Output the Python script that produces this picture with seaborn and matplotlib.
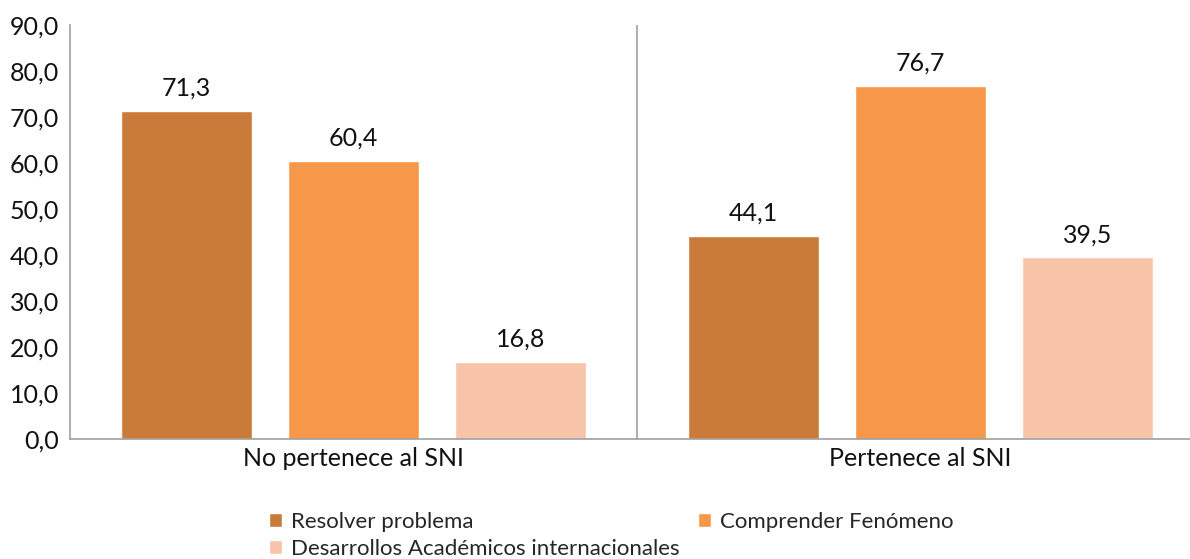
import matplotlib
import pandas as pd
import seaborn as sns
import matplotlib.pyplot as plt
from matplotlib.patches import Patch
from matplotlib.ticker import FuncFormatter

# datos
grupos = ['No pertenece al SNI', 'Pertenece al SNI']
series = ['Resolver problema', 'Comprender Fenómeno', 'Desarrollos Académicos internacionales']
resolver = [71.3, 44.1]
comprender = [60.4, 76.7]
desarrollos = [16.8, 39.5]
colores = ['#CA7B3A', '#F6974A', '#F8C4A9']

df = pd.DataFrame({
    'grupo': grupos * 3,
    'serie': [series[0]] * 2 + [series[1]] * 2 + [series[2]] * 2,
    'valor': resolver + comprender + desarrollos,
})

sns.set_theme(style='white')
matplotlib.rcParams['font.family'] = ['Lato', 'DejaVu Sans']
matplotlib.rcParams['font.size'] = 18

fig = plt.figure(figsize=(11.9, 5.59), dpi=100)
ax = fig.add_axes([70 / 1190, 1 - 439 / 559, 1134 / 1190, 414 / 559])

sns.barplot(data=df, x='grupo', y='valor', hue='serie', palette=colores,
            width=0.8835, gap=0.216, ax=ax, legend=False, saturation=1)

for c in ax.containers:
    ax.bar_label(c, labels=[f'{v:.1f}'.replace('.', ',') for v in c.datavalues],
                 padding=8, fontsize=18, color='#111111')

ax.set_xlim(-0.5, 1.5)
ax.set_ylim(0, 90)
ax.set_yticks(range(0, 91, 10))
ax.yaxis.set_major_formatter(FuncFormatter(lambda v, p: f'{v:.1f}'.replace('.', ',')))
ax.set_xlabel('')
ax.set_ylabel('')
ax.tick_params(axis='both', length=0, labelsize=18, colors='#111111')
ax.tick_params(axis='x', pad=6)
ax.tick_params(axis='y', pad=8)
for s in ['top', 'right']:
    ax.spines[s].set_visible(False)
for s in ['left', 'bottom']:
    ax.spines[s].set_color('#A0A0A0')
    ax.spines[s].set_linewidth(1.2)
ax.axvline(0.5, color='#A0A0A0', linewidth=1.2)

# orden: fila 1 Resolver, Comprender; fila 2 Desarrollos
handles = [Patch(facecolor=colores[i], label=series[i]) for i in [0, 2, 1]]
fig.legend(handles=handles, ncol=2, loc='upper left', bbox_to_anchor=(260 / 1190, 1 - 503 / 559),
           frameon=False, fontsize=16, handlelength=0.6, handleheight=0.6, handletextpad=0.4,
           columnspacing=0.8, labelspacing=0.3, borderaxespad=0)

plt.savefig('out.png', dpi=100)
